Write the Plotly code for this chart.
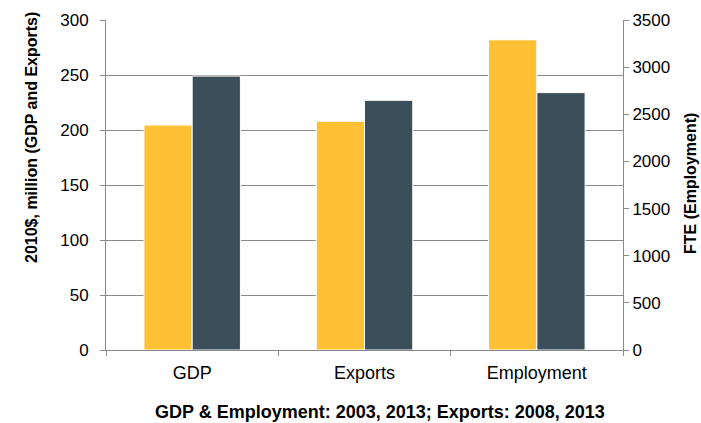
import plotly.graph_objects as go

categories = ["GDP", "Exports", "Employment"]
money_cats = ["GDP", "Exports"]
money_first = [204.5, 208]      # 2003 (GDP) / 2008 (Exports)
money_second = [249, 227]       # 2013
emp_cats = ["Employment"]
emp_first = [3290]              # 2003
emp_second = [2730]             # 2013

yellow = "#FFC133"
dark = "#3A4F5A"
grid = "#8A8A8A"
font = "Liberation Sans, Arial, sans-serif"
W = 0.28

fig = go.Figure()
fig.add_bar(x=money_cats, y=money_first, marker=dict(color=yellow, line=dict(color="white", width=1)),
            width=W, offset=-W, yaxis="y")
fig.add_bar(x=money_cats, y=money_second, marker=dict(color=dark, line=dict(color="white", width=1)),
            width=W, offset=0, yaxis="y")
fig.add_bar(x=emp_cats, y=emp_first, marker=dict(color=yellow, line=dict(color="white", width=1)),
            width=W, offset=-W, yaxis="y2")
fig.add_bar(x=emp_cats, y=emp_second, marker=dict(color=dark, line=dict(color="white", width=1)),
            width=W, offset=0, yaxis="y2")

fig.update_layout(
    width=701, height=423,
    margin=dict(l=106, r=78, t=20, b=73),
    paper_bgcolor="white", plot_bgcolor="white",
    showlegend=False, barmode="overlay",
    font=dict(family=font, color="#000000"),
    xaxis=dict(type="category", categoryorder="array", categoryarray=categories,
               range=[-0.5, 2.5], showline=True, linecolor=grid, linewidth=1,
               ticks="outside", tickson="boundaries", ticklen=5, tickcolor=grid,
               tickfont=dict(size=18), ticklabelstandoff=6, showgrid=False),
    yaxis=dict(range=[0, 300], dtick=50, showline=True, linecolor=grid, linewidth=1,
               ticks="outside", ticklen=5, tickcolor=grid, tickfont=dict(size=17),
               ticklabelstandoff=8,
               showgrid=True, gridcolor=grid, gridwidth=1, zeroline=False),
    yaxis2=dict(range=[0, 3500], dtick=500, overlaying="y", side="right",
                showline=True, linecolor=grid, linewidth=1,
                ticks="outside", ticklen=5, tickcolor=grid, tickfont=dict(size=17),
                showgrid=False, zeroline=False),
)

fig.add_annotation(text="<b>GDP & Employment: 2003, 2013; Exports: 2008, 2013</b>",
                   xref="paper", yref="paper", x=(380 - 106) / 517, y=(350 - 412) / 330,
                   xanchor="center", yanchor="middle", showarrow=False, font=dict(size=18))
fig.add_annotation(text="<b>2010$, million (GDP and Exports)</b>", textangle=-90,
                   xref="paper", yref="paper", x=(31 - 106) / 517, y=(350 - 138) / 330,
                   xanchor="center", yanchor="middle", showarrow=False, font=dict(size=16))
fig.add_annotation(text="<b>FTE (Employment)</b>", textangle=-90,
                   xref="paper", yref="paper", x=(690 - 106) / 517, y=(350 - 184) / 330,
                   xanchor="center", yanchor="middle", showarrow=False, font=dict(size=16))

fig.write_html("out.html", config={"displayModeBar": False},
               post_script="document.body.style.margin='0';document.body.style.overflow='hidden';")
